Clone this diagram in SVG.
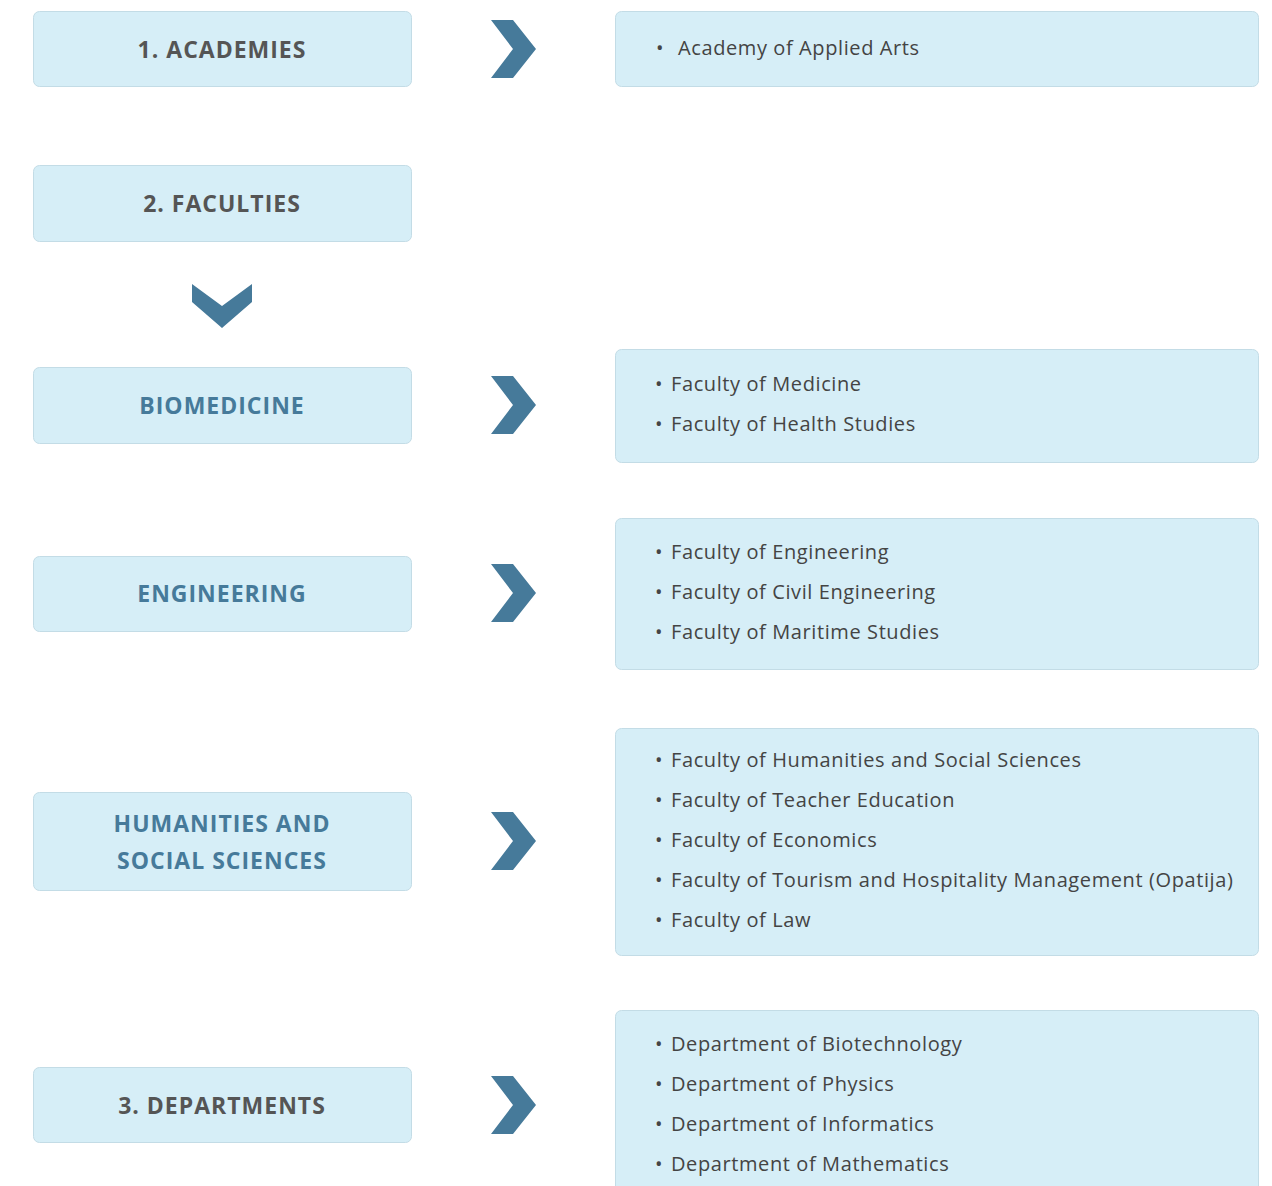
<svg xmlns="http://www.w3.org/2000/svg" width="1272" height="1186" viewBox="0 0 1272 1186">
<style>
.box{fill:#d6eef7;stroke:#c3dce6;stroke-width:1}
.h{font-family:"Open Sans","Liberation Sans",sans-serif;font-weight:bold;font-size:23px;letter-spacing:1px;text-anchor:middle}
.g{fill:#555555}
.b{fill:#467a9a}
.li{font-family:"Open Sans","Liberation Sans",sans-serif;font-size:20px;letter-spacing:0.6px;fill:#444444}
.chev{fill:#467a9a}
</style>
<defs>
<polygon id="chr" points="-23,-29 -1,-29 22,0 -1,29 -23,29 -1,0"/>
</defs>
<rect width="1272" height="1186" fill="#ffffff"/>
<g id="connectors">
<use href="#chr" class="chev" x="514" y="49"/>
<polygon class="chev" points="192,284 222,306 252,284 252,302 222,328 192,302"/>
<use href="#chr" class="chev" x="514" y="405"/>
<use href="#chr" class="chev" x="514" y="593"/>
<use href="#chr" class="chev" x="514" y="841"/>
<use href="#chr" class="chev" x="514" y="1105"/>
</g>
<g id="academies">
<rect class="box" x="33.5" y="11.5" width="378" height="75" rx="6"/>
<text class="h g" x="222" y="58">1. ACADEMIES</text>
</g>
<g id="academies-list">
<rect class="box" x="615.5" y="11.5" width="643" height="75" rx="6"/>
<text class="li" x="656" y="55">•</text>
<text class="li" x="678" y="55">Academy of Applied Arts</text>
</g>
<g id="faculties">
<rect class="box" x="33.5" y="165.5" width="378" height="76" rx="6"/>
<text class="h g" x="222" y="212">2. FACULTIES</text>
</g>
<g id="biomedicine">
<rect class="box" x="33.5" y="367.5" width="378" height="76" rx="6"/>
<text class="h b" x="222" y="414">BIOMEDICINE</text>
</g>
<g id="biomedicine-list">
<rect class="box" x="615.5" y="349.5" width="643" height="113" rx="6"/>
<text class="li" x="655" y="391">•</text><text class="li" x="671" y="391">Faculty of Medicine</text>
<text class="li" x="655" y="431">•</text><text class="li" x="671" y="431">Faculty of Health Studies</text>
</g>
<g id="engineering">
<rect class="box" x="33.5" y="556.5" width="378" height="75" rx="6"/>
<text class="h b" x="222" y="602">ENGINEERING</text>
</g>
<g id="engineering-list">
<rect class="box" x="615.5" y="518.5" width="643" height="151" rx="6"/>
<text class="li" x="655" y="559">•</text><text class="li" x="671" y="559">Faculty of Engineering</text>
<text class="li" x="655" y="599">•</text><text class="li" x="671" y="599">Faculty of Civil Engineering</text>
<text class="li" x="655" y="639">•</text><text class="li" x="671" y="639">Faculty of Maritime Studies</text>
</g>
<g id="humanities">
<rect class="box" x="33.5" y="792.5" width="378" height="98" rx="6"/>
<text class="h b" x="222" y="832">HUMANITIES AND</text>
<text class="h b" x="222" y="869">SOCIAL SCIENCES</text>
</g>
<g id="humanities-list">
<rect class="box" x="615.5" y="728.5" width="643" height="227" rx="6"/>
<text class="li" x="655" y="767">•</text><text class="li" x="671" y="767">Faculty of Humanities and Social Sciences</text>
<text class="li" x="655" y="807">•</text><text class="li" x="671" y="807">Faculty of Teacher Education</text>
<text class="li" x="655" y="847">•</text><text class="li" x="671" y="847">Faculty of Economics</text>
<text class="li" x="655" y="887">•</text><text class="li" x="671" y="887">Faculty of Tourism and Hospitality Management (Opatija)</text>
<text class="li" x="655" y="927">•</text><text class="li" x="671" y="927">Faculty of Law</text>
</g>
<g id="departments">
<rect class="box" x="33.5" y="1067.5" width="378" height="75" rx="6"/>
<text class="h g" x="222" y="1114">3. DEPARTMENTS</text>
</g>
<g id="departments-list">
<rect class="box" x="615.5" y="1010.5" width="643" height="200" rx="6"/>
<text class="li" x="655" y="1051">•</text><text class="li" x="671" y="1051">Department of Biotechnology</text>
<text class="li" x="655" y="1091">•</text><text class="li" x="671" y="1091">Department of Physics</text>
<text class="li" x="655" y="1131">•</text><text class="li" x="671" y="1131">Department of Informatics</text>
<text class="li" x="655" y="1171">•</text><text class="li" x="671" y="1171">Department of Mathematics</text>
</g>
</svg>
